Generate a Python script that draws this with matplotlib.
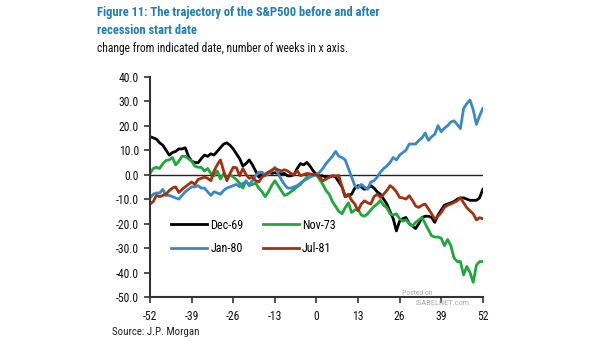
import numpy as np
import matplotlib
matplotlib.use("Agg")
import matplotlib.pyplot as plt

FAMILY = ['Liberation Sans Narrow', 'Arial Narrow', 'Roboto Condensed', 'PT Sans Narrow',
          'Archivo Narrow', 'Liberation Sans', 'DejaVu Sans']
plt.rcParams['font.family'] = FAMILY

weeks = list(range(-52, 53))

dec69 = [15.5, 15.0, 14.5, 13.0, 12.0, 10.0, 8.0, 9.0, 9.5, 10.5, 10.5, 11.0, 7.5, 5.5, 5.0, 4.8,
         6.5, 8.0, 7.5, 8.5, 8.0, 9.5, 11.0, 12.5, 13.0, 12.0, 10.5, 8.5, 6.5, 3.5, 4.5, 6.0,
         4.0, 1.5, -1.0, 0.5, 0.0, 1.0, 0.5, 0.8, 0.5, 0.3, 0.5, -0.5, -0.5, 0.0, 2.5, 4.5,
         4.0, 5.0, 3.5, 1.5, 0.0, -0.5, -0.5, -1.0, -1.0, -0.5, -1.0, -3.0, -5.0, -9.0, -8.5,
         -8.0, -5.5, -4.5, -5.0, -6.0, -5.5, -4.5, -5.5, -7.0, -8.0, -10.0, -12.0, -15.0, -18.0,
         -23.0, -19.0, -18.0, -17.5, -20.0, -21.0, -22.0, -20.0, -17.5, -17.0, -17.0, -17.5,
         -19.5, -16.5, -14.5, -12.5, -12.0, -11.5, -11.0, -10.0, -9.5, -9.5, -10.0, -10.5,
         -10.5, -10.5, -9.5, -6.0]

nov73 = [0.5, 2.5, 3.0, 2.5, 4.5, 5.8, 6.0, 7.0, 4.0, 5.5, 7.5, 7.5, 6.5, 5.5, 3.5, 3.0,
         3.0, 1.5, 2.5, 0.5, -0.5, 1.5, -1.8, 0.5, -1.5, 0.0, -1.0, -2.0, -3.5, -5.5, -2.5,
         -4.5, -4.0, -3.5, -5.5, -7.0, -9.0, -7.0, -4.5, -2.5, -4.5, -6.5, -8.5, -8.0, -7.0,
         -6.0, -5.0, -4.0, -2.5, -1.0, -0.5, -0.3, 0.0, -2.0, -4.0, -6.5, -8.0, -11.0, -13.0,
         -15.0, -16.0, -13.5, -11.5, -15.5, -14.5, -14.0, -16.5, -17.0, -16.0, -14.5, -13.0,
         -12.0, -10.5, -12.5, -13.5, -16.0, -16.5, -16.0, -18.0, -19.0, -18.5, -20.0, -21.0,
         -19.5, -18.5, -17.5, -20.0, -22.5, -25.0, -25.5, -25.5, -26.0, -29.0, -26.5, -29.0,
         -34.0, -35.5, -35.5, -41.0, -37.5, -40.0, -44.0, -37.0, -35.5, -35.5]

jan80 = [-9.5, -8.0, -7.5, -7.5, -6.0, -8.5, -8.5, -9.0, -9.5, -10.0, -8.5, -7.0, -6.0, -5.0,
         -5.0, -4.5, -5.5, -5.5, -7.0, -8.5, -7.0, -7.5, -8.0, -6.5, -5.5, -5.0, -4.5, -4.0,
         -5.0, -3.5, -3.0, -4.0, -2.5, -0.5, 1.0, 1.0, -0.5, 0.5, 1.5, 3.0, 0.5, -2.0, -4.0,
         -5.5, -5.5, -5.0, -4.5, -3.5, -2.5, -1.8, -1.0, -0.4, 0.0, 1.0, 2.5, 4.5, 6.0, 7.5,
         9.5, 7.5, 7.0, 6.0, 2.5, -1.0, -4.5, -5.5, -4.0, -5.0, -6.0, -3.0, -2.5, -1.0, 1.0,
         2.5, 3.5, 5.0, 7.0, 6.0, 8.0, 9.0, 10.0, 12.5, 12.5, 12.5, 14.0, 15.0, 17.0, 14.0,
         15.5, 16.5, 20.0, 17.5, 19.0, 20.0, 21.5, 22.0, 20.5, 18.8, 27.0, 29.0, 30.5, 26.5,
         20.5, 24.0, 27.0]

jul81 = [-12.0, -11.0, -8.5, -9.0, -8.5, -8.0, -6.5, -5.5, -5.0, -7.3, -6.0, -5.0, -4.0, -3.0,
         -4.0, -2.0, -1.5, -1.0, -1.5, -2.5, 1.5, 4.0, 6.0, 1.5, -2.5, 0.5, 3.0, 2.8, -0.5,
         2.5, 0.0, -1.5, -1.0, -2.5, -3.0, -1.0, 0.0, 1.0, 1.8, 2.5, 2.0, 1.5, 2.0, 1.5, 0.5,
         0.0, 1.6, -0.4, 0.0, 0.5, 0.3, 0.0, 0.0, -1.0, -2.5, -1.8, -1.0, -0.5, -0.5, -0.4,
         -5.0, -9.0, -8.0, -10.5, -12.0, -14.8, -12.0, -10.7, -11.5, -12.0, -9.0, -8.0, -9.3,
         -8.0, -6.5, -4.5, -5.5, -7.0, -9.3, -9.5, -10.0, -8.6, -10.5, -12.8, -13.4, -12.5,
         -12.0, -14.0, -16.0, -18.2, -17.0, -15.5, -13.4, -12.5, -12.0, -11.4, -10.7, -9.5,
         -11.5, -13.5, -14.8, -16.0, -18.5, -17.6, -18.0]

series_names = ["Dec-69", "Nov-73", "Jan-80", "Jul-81"]
series_vals = [dec69, nov73, jan80, jul81]
colors = ["#000000", "#1ea83c", "#3a88c6", "#a3300f"]

x_ticks = [-52, -39, -26, -13, 0, 13, 26, 39, 52]
y_ticks = [40, 30, 20, 10, 0, -10, -20, -30, -40, -50]

title1 = "Figure 11: The trajectory of the S&P500 before and after"
title2 = "recession start date"
subtitle = "change from indicated date, number of weeks in x axis."
source = "Source: J.P. Morgan"

fig = plt.figure(figsize=(6.05, 3.41), dpi=100)
renderer = fig.canvas.get_renderer()


def fit_size(text, target_px, weight="normal", cap=12.0):
    t = fig.text(0, 0, text, fontsize=10, fontweight=weight)
    w = t.get_window_extent(renderer).width
    t.remove()
    return min(cap, 10.0 * target_px / w)


title_fs = fit_size(title1, 283, "bold", cap=11.5)
sub_fs = fit_size(subtitle, 250, cap=9.5)
src_fs = fit_size(source, 87, cap=8.5)
leg_fs = fit_size("Dec-69", 33, cap=9.5)
tick_fs = fit_size("-10.0", 23, cap=9.0)

ax = fig.add_axes([0.248, 0.129, 0.550, 0.646])

ax.axhline(0, color="#222222", lw=1.0, zorder=1)
handles = {}
for name, vals, c in zip(series_names, series_vals, colors):
    l, = ax.plot(weeks, vals, color=c, lw=2.0, label=name, zorder=2)
    handles[name] = l

ax.set_xlim(-52, 52)
ax.set_ylim(-50, 40)
ax.set_xticks(x_ticks)
ax.set_yticks(y_ticks)
ax.set_yticklabels([f"{v:.1f}" for v in y_ticks])
ax.set_xticklabels([str(v) for v in x_ticks])
for s in ["top", "right"]:
    ax.spines[s].set_visible(False)
for s in ["left", "bottom"]:
    ax.spines[s].set_color("#333333")
    ax.spines[s].set_linewidth(1.5)
ax.tick_params(axis="both", direction="out", length=4, width=1.2, color="#333333",
               labelsize=tick_fs, labelcolor="#111111")
ax.tick_params(axis="y", pad=4)
ax.tick_params(axis="x", pad=5)

order = ["Dec-69", "Jan-80", "Nov-73", "Jul-81"]
leg = ax.legend(handles=[handles[n] for n in order], ncol=2, frameon=False, loc="upper left",
                bbox_to_anchor=(0.03, 0.405), handlelength=3.0, handletextpad=0.25,
                columnspacing=1.6, labelspacing=0.85, fontsize=leg_fs)

fig.text(0.160, 0.962, title1, color="#1f7db8", fontsize=title_fs, fontweight="bold",
         va="center", ha="left")
fig.text(0.160, 0.912, title2, color="#1f7db8", fontsize=title_fs, fontweight="bold",
         va="center", ha="left")
fig.text(0.160, 0.858, subtitle, color="#111111", fontsize=sub_fs, va="center", ha="left")
fig.text(0.185, 0.025, source, color="#222222", fontsize=src_fs, va="center", ha="left")

fig.text(0.664, 0.141, "Posted on", color="#a8a8a8", fontsize=5.5, va="center", ha="left")
fig.text(0.686, 0.111, "ISABELNET.com", color="#a8a8a8", fontsize=6, va="center", ha="left")

fig.savefig("out.png", dpi=100)
